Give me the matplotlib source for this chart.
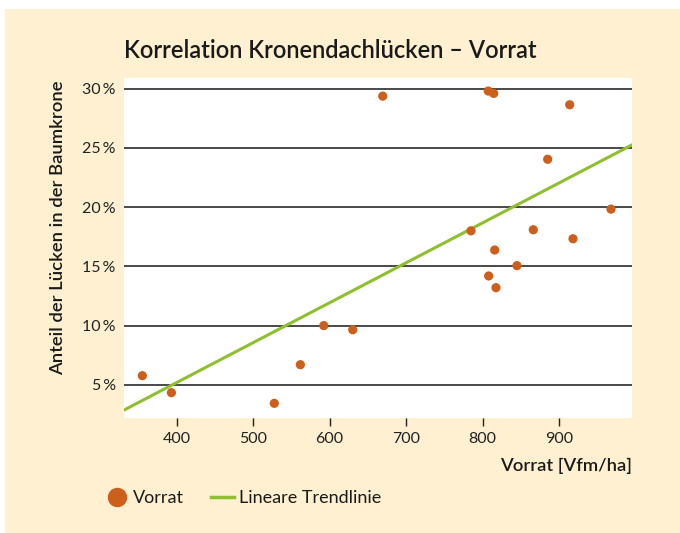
import matplotlib.pyplot as plt
import numpy as np
from matplotlib.lines import Line2D
from matplotlib.patches import Rectangle

plt.rcParams['font.family'] = ['Lato', 'DejaVu Sans']

# Vorrat [Vfm/ha] vs. Anteil der Lücken [%]
vorrat = [355, 393, 527.6, 561.7, 592.3, 630.2, 669.4, 784.9, 807.5, 814.6,
          815.9, 808, 817.6, 845, 866.4, 885.2, 914, 918.3, 968]
luecken = [5.77, 4.34, 3.44, 6.70, 10.0, 9.65, 29.37, 18.0, 29.8, 29.6,
           16.38, 14.19, 13.2, 15.06, 18.09, 24.04, 28.64, 17.33, 19.83]

x_ticks = [400, 500, 600, 700, 800, 900]
y_ticks = [5, 10, 15, 20, 25, 30]
y_labels = ['5\u2009%', '10\u2009%', '15\u2009%', '20\u2009%', '25\u2009%', '30\u2009%']

beige = '#fef0d0'
orange = '#cc5f1c'
green = '#8dbf2e'

fig = plt.figure(figsize=(6.8, 5.33), dpi=100)
fig.patches.append(Rectangle((5 / 680, 0), 1, 1 - 9 / 533, transform=fig.transFigure,
                             facecolor=beige, edgecolor='none', zorder=-10))

ax = fig.add_axes([124 / 680, 1 - 418 / 533, 508 / 680, 340 / 533])
ax.set_facecolor('white')
xlim = (331, 995.5)
ax.set_xlim(*xlim)
ax.set_ylim(2.2, 30.9)

for y in y_ticks:
    ax.axhline(y, color='#3a3a3a', lw=1.3, zorder=1)

# linear trend line
k, d = np.polyfit(vorrat, luecken, 1)
xs = np.array(xlim)
ax.plot(xs, k * xs + d, color=green, lw=2.2, zorder=2)

ax.scatter(vorrat, luecken, s=44, color=orange, edgecolor='none', zorder=3)

for s in ax.spines.values():
    s.set_visible(False)

ax.set_xticks(x_ticks)
ax.set_yticks(y_ticks)
ax.set_yticklabels(y_labels)
ax.tick_params(axis='x', direction='out', length=6, width=1, color='#222222',
               labelsize=11.5, labelcolor='#222222', pad=4)
ax.tick_params(axis='y', length=0, labelsize=11.5, labelcolor='#222222', pad=6)

fig.text(124 / 680, 1 - 50 / 533, 'Korrelation Kronendachlücken – Vorrat',
         fontsize=17, fontweight='semibold', color='#1a1a1a', va='center', ha='left')
fig.text(58 / 680, 1 - 228 / 533, 'Anteil der Lücken in der Baumkrone', rotation=90,
         fontsize=13.3, fontweight='semibold', color='#1a1a1a', va='center', ha='center')
fig.text(632 / 680, 1 - 466 / 533, 'Vorrat [Vfm/ha]', fontsize=13.3,
         fontweight='semibold', color='#1a1a1a', va='center', ha='right')

handles = [Line2D([], [], marker='o', ls='none', color=orange, markersize=13),
           Line2D([], [], color=green, lw=2.5)]
fig.legend(handles, ['Vorrat', 'Lineare Trendlinie'], loc='center left',
           bbox_to_anchor=(89 / 680, 1 - 498 / 533), ncol=2, frameon=False,
           fontsize=13, handlelength=1.25, handletextpad=0.3, columnspacing=1.5,
           labelcolor='#1a1a1a')

fig.savefig('out.png', dpi=100)
